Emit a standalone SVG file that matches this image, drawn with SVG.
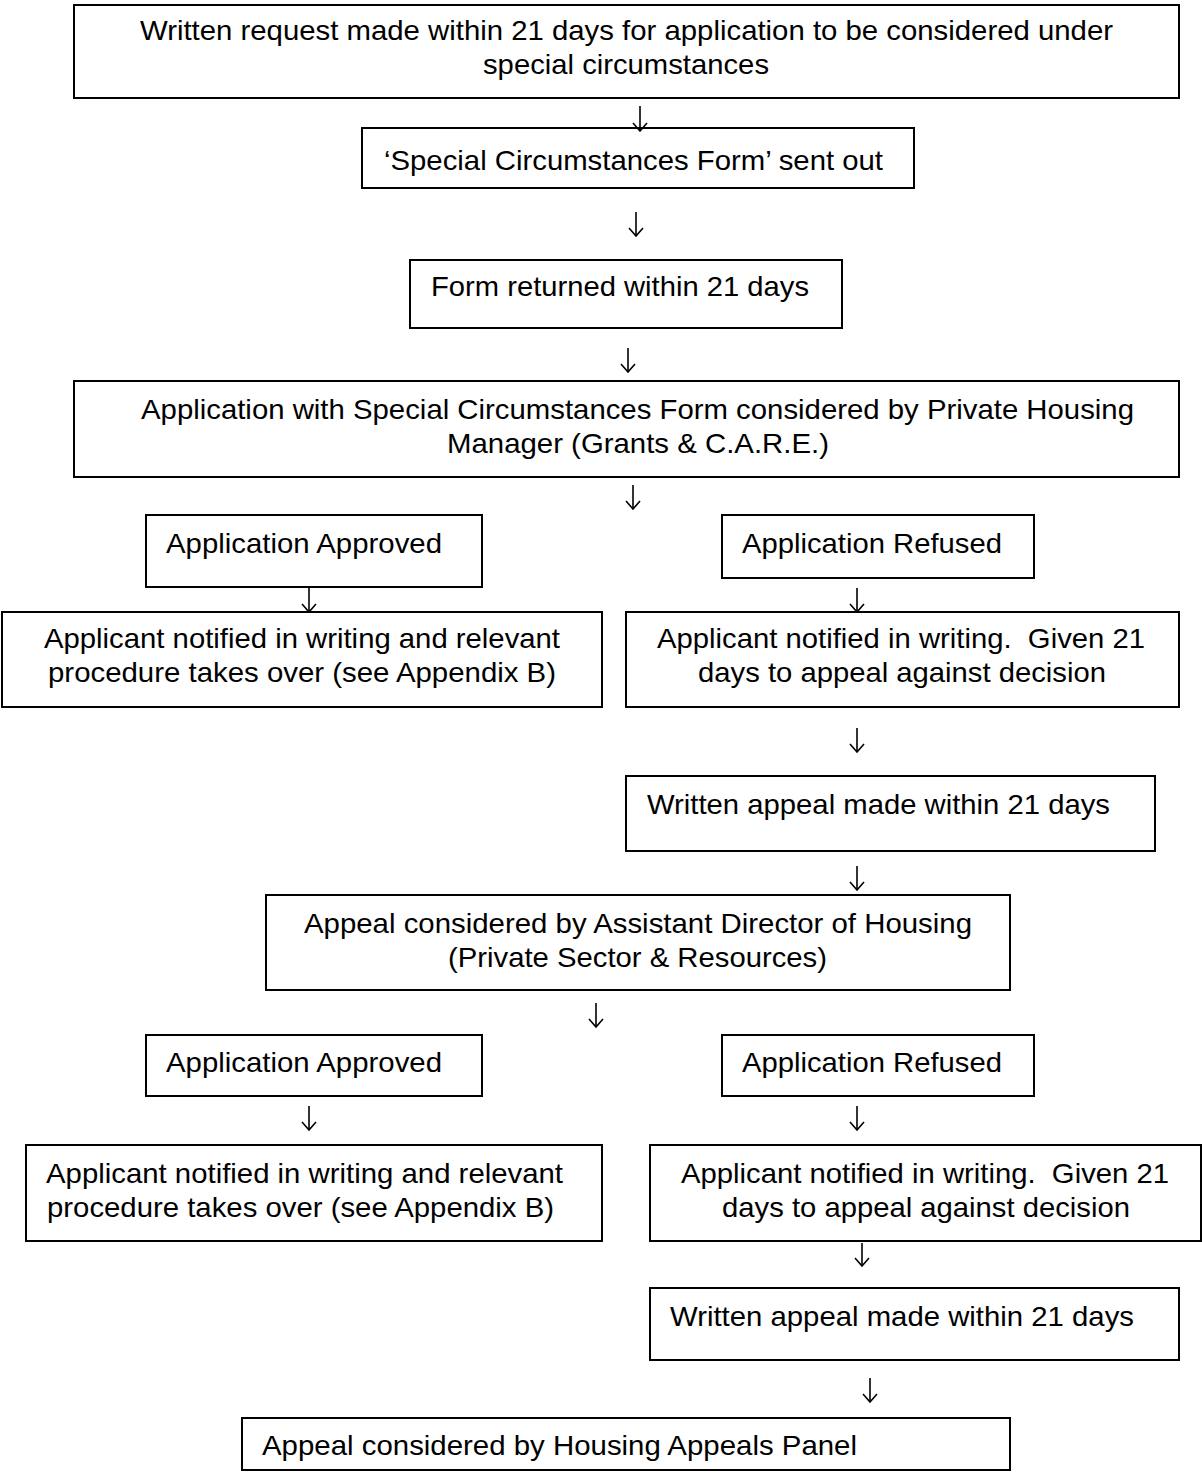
<svg xmlns="http://www.w3.org/2000/svg" width="1202" height="1477" viewBox="0 0 1202 1477">
<style>
.box{fill:#fff;stroke:#000;stroke-width:2}
.t{font-family:"Liberation Sans",Arial,sans-serif;font-size:28px;fill:#000}
.arr{fill:none;stroke:#000;stroke-width:1.6}
</style>
<defs>
<marker id="ah" viewBox="0 0 10 16" refX="9" refY="8" markerWidth="10" markerHeight="16" markerUnits="userSpaceOnUse" orient="auto">
<path d="M1,1 L9,8 L1,15" fill="none" stroke="#000" stroke-width="1.6"/>
</marker>
</defs>
<rect width="1202" height="1477" fill="#fff"/>
<g id="n1"><rect class="box" x="74" y="5" width="1105" height="93"/>
<text class="t" x="140" y="40" textLength="973" lengthAdjust="spacingAndGlyphs">Written request made within 21 days for application to be considered under</text>
<text class="t" x="483" y="74" textLength="286" lengthAdjust="spacingAndGlyphs">special circumstances</text></g>
<g id="n2"><rect class="box" x="362" y="128" width="552" height="60"/>
<text class="t" x="384" y="170" textLength="499" lengthAdjust="spacingAndGlyphs">‘Special Circumstances Form’ sent out</text></g>
<g id="n3"><rect class="box" x="410" y="260" width="432" height="68"/>
<text class="t" x="431" y="296" textLength="378" lengthAdjust="spacingAndGlyphs">Form returned within 21 days</text></g>
<g id="n4"><rect class="box" x="74" y="381" width="1105" height="96"/>
<text class="t" x="141" y="419" textLength="993" lengthAdjust="spacingAndGlyphs">Application with Special Circumstances Form considered by Private Housing</text>
<text class="t" x="447" y="453" textLength="382" lengthAdjust="spacingAndGlyphs">Manager (Grants &amp; C.A.R.E.)</text></g>
<g id="n5"><rect class="box" x="146" y="515" width="336" height="72"/>
<text class="t" x="166" y="553" textLength="276" lengthAdjust="spacingAndGlyphs">Application Approved</text></g>
<g id="n6"><rect class="box" x="722" y="515" width="312" height="63"/>
<text class="t" x="742" y="553" textLength="260" lengthAdjust="spacingAndGlyphs">Application Refused</text></g>
<g id="n7"><rect class="box" x="2" y="612" width="600" height="95"/>
<text class="t" x="44" y="648" textLength="516" lengthAdjust="spacingAndGlyphs">Applicant notified in writing and relevant</text>
<text class="t" x="48" y="682" textLength="508" lengthAdjust="spacingAndGlyphs">procedure takes over (see Appendix B)</text></g>
<g id="n8"><rect class="box" x="626" y="612" width="553" height="95"/>
<text class="t" x="657" y="648" textLength="488" lengthAdjust="spacingAndGlyphs" xml:space="preserve">Applicant notified in writing.  Given 21</text>
<text class="t" x="698" y="682" textLength="408" lengthAdjust="spacingAndGlyphs">days to appeal against decision</text></g>
<g id="n9"><rect class="box" x="626" y="776" width="529" height="75"/>
<text class="t" x="647" y="814" textLength="463" lengthAdjust="spacingAndGlyphs">Written appeal made within 21 days</text></g>
<g id="n10"><rect class="box" x="266" y="895" width="744" height="95"/>
<text class="t" x="304" y="933" textLength="668" lengthAdjust="spacingAndGlyphs">Appeal considered by Assistant Director of Housing</text>
<text class="t" x="448" y="967" textLength="379" lengthAdjust="spacingAndGlyphs">(Private Sector &amp; Resources)</text></g>
<g id="n11"><rect class="box" x="146" y="1035" width="336" height="61"/>
<text class="t" x="166" y="1072" textLength="276" lengthAdjust="spacingAndGlyphs">Application Approved</text></g>
<g id="n12"><rect class="box" x="722" y="1035" width="312" height="61"/>
<text class="t" x="742" y="1072" textLength="260" lengthAdjust="spacingAndGlyphs">Application Refused</text></g>
<g id="n13"><rect class="box" x="26" y="1145" width="576" height="96"/>
<text class="t" x="46" y="1183" textLength="517" lengthAdjust="spacingAndGlyphs">Applicant notified in writing and relevant</text>
<text class="t" x="47" y="1217" textLength="507" lengthAdjust="spacingAndGlyphs">procedure takes over (see Appendix B)</text></g>
<g id="n14"><rect class="box" x="650" y="1145" width="551" height="96"/>
<text class="t" x="681" y="1183" textLength="488" lengthAdjust="spacingAndGlyphs" xml:space="preserve">Applicant notified in writing.  Given 21</text>
<text class="t" x="722" y="1217" textLength="408" lengthAdjust="spacingAndGlyphs">days to appeal against decision</text></g>
<g id="n15"><rect class="box" x="650" y="1288" width="529" height="72"/>
<text class="t" x="670" y="1326" textLength="464" lengthAdjust="spacingAndGlyphs">Written appeal made within 21 days</text></g>
<g id="n16"><rect class="box" x="242" y="1418" width="768" height="52"/>
<text class="t" x="262" y="1455" textLength="595" lengthAdjust="spacingAndGlyphs">Appeal considered by Housing Appeals Panel</text></g>
<g id="connectors">
<line class="arr" x1="640" y1="106" x2="640" y2="131" marker-end="url(#ah)"/>
<line class="arr" x1="636" y1="212" x2="636" y2="236" marker-end="url(#ah)"/>
<line class="arr" x1="628" y1="348" x2="628" y2="372" marker-end="url(#ah)"/>
<line class="arr" x1="633" y1="485" x2="633" y2="509" marker-end="url(#ah)"/>
<line class="arr" x1="309" y1="588" x2="309" y2="612" marker-end="url(#ah)"/>
<line class="arr" x1="857" y1="588" x2="857" y2="612" marker-end="url(#ah)"/>
<line class="arr" x1="857" y1="728" x2="857" y2="752" marker-end="url(#ah)"/>
<line class="arr" x1="857" y1="866" x2="857" y2="890" marker-end="url(#ah)"/>
<line class="arr" x1="596" y1="1003" x2="596" y2="1027" marker-end="url(#ah)"/>
<line class="arr" x1="309" y1="1106" x2="309" y2="1130" marker-end="url(#ah)"/>
<line class="arr" x1="857" y1="1106" x2="857" y2="1130" marker-end="url(#ah)"/>
<line class="arr" x1="862" y1="1243" x2="862" y2="1266" marker-end="url(#ah)"/>
<line class="arr" x1="870" y1="1378" x2="870" y2="1402" marker-end="url(#ah)"/>
</g>
</svg>
